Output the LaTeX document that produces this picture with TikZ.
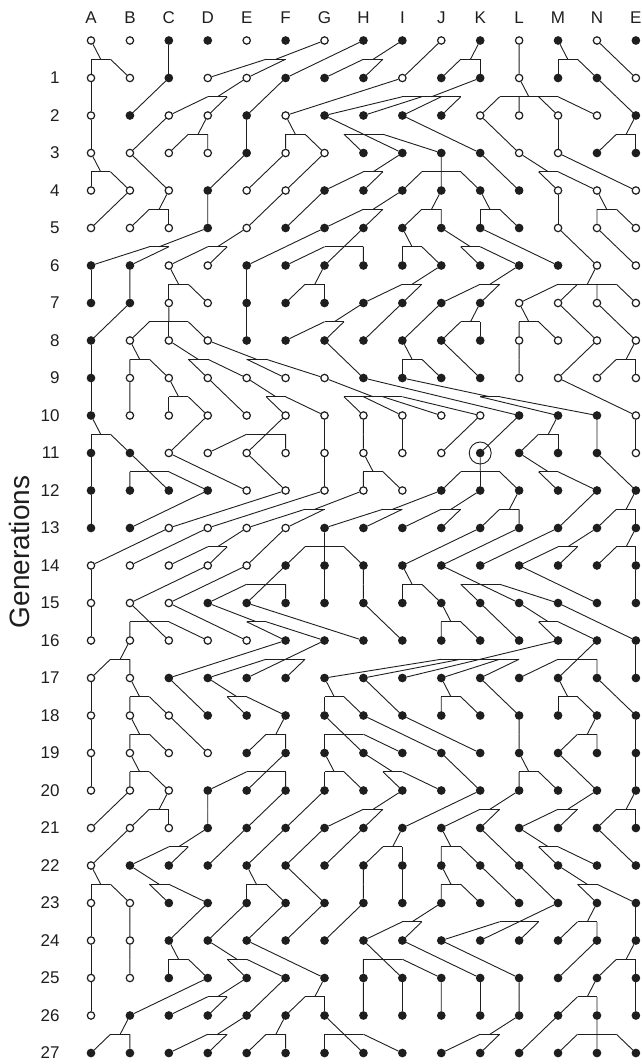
\documentclass[tikz,border=0pt]{standalone}
\usepackage{fontspec}
\setmainfont{Liberation Sans}
\usetikzlibrary{calc}
\definecolor{ink}{HTML}{1E1E1E}
\definecolor{o}{HTML}{FFFFFF}
\definecolor{f}{HTML}{1E1E1E}

\newcommand\colname[1]{\ifcase#1 A\or B\or C\or D\or E\or F\or G\or H\or I\or J\or K\or L\or M\or N\or EE\fi}
% one generation: row number, then the type of each individual
\newcommand\genrow[2]{%
  \foreach \t [count=\k from 0] in {#2}{
    \node[dot,fill=\t] (\colname{\k}#1) at ({91+38.92*\k},{40.5+37.5*#1}) {};
  }%
}
% one parent in row #1-1 and its offspring in row #1
\newcommand\brood[3]{%
  \pgfmathtruncatemacro\prow{#1-1}%
  \foreach \ch [count=\i] in {#3}{
    \coordinate (m\i) at ($(#2\prow)!0.5!(\ch#1)$);
    \draw[link] (m\i) -- (\ch#1);
    \xdef\nlast{\i}%
  }%
  \draw[link] (m1) -- (m\nlast);
  \draw[link] (#2\prow) -- ($(m1)!0.5!(m\nlast)$);
}

\begin{document}
\begin{tikzpicture}[x=1pt,y=-1pt]
\tikzset{dot/.style={circle,draw=ink,line width=1.2pt,minimum size=7.4pt,inner sep=0pt},
  link/.style={draw=ink,line width=0.9pt},
  lab/.style={font=\fontsize{17}{17}\selectfont,text=ink}}
\useasboundingbox (0,0) rectangle (641,1064);
% column letters and generation numbers
\foreach \col [count=\k from 0] in {A,B,C,D,E,F,G,H,I,J,K,L,M,N,E}
  \node[lab] (h\k) at ({91+38.92*\k},18) {\col};
\foreach \r in {1,...,27}
  \node[lab,anchor=east] (g\r) at (63,{40.5+37.5*\r}) {\r};
\node[rotate=90,font=\fontsize{28}{28}\selectfont,text=ink] (gens) at (19,552) {Generations};

\genrow{0}{o,o,f,f,o,f,o,f,f,o,f,o,f,o,f}
\genrow{1}{o,o,f,o,o,f,f,f,o,f,f,o,f,f,o}
\genrow{2}{o,f,o,o,f,o,f,f,f,f,o,o,o,o,f}
\genrow{3}{o,o,o,o,f,o,o,f,f,f,f,o,o,f,f}
\genrow{4}{o,o,o,f,o,o,f,f,f,f,f,f,o,o,o}
\genrow{5}{o,o,o,f,o,f,f,f,f,f,f,f,o,o,o}
\genrow{6}{f,f,o,o,f,f,f,f,f,f,f,f,f,o,o}
\genrow{7}{f,f,o,o,f,f,f,f,f,f,f,o,o,o,o}
\genrow{8}{f,o,o,o,f,f,f,f,f,f,f,o,o,o,o}
\genrow{9}{f,o,o,o,o,o,o,f,f,f,f,o,o,o,o}
\genrow{10}{f,o,o,o,o,o,o,o,o,o,o,f,f,f,o}
\genrow{11}{f,f,o,o,o,o,o,o,o,o,f,f,f,f,o}
\genrow{12}{f,f,f,f,o,o,o,o,o,f,f,f,f,f,f}
\genrow{13}{f,f,o,o,o,o,f,f,f,f,f,f,f,f,f}
\genrow{14}{o,o,o,o,o,f,f,f,f,f,f,f,f,f,f}
\genrow{15}{o,o,o,f,f,f,f,f,f,f,f,f,f,f,f}
\genrow{16}{o,o,o,o,o,f,f,f,f,f,f,f,f,f,f}
\genrow{17}{o,o,f,f,f,f,f,f,f,f,f,f,f,f,f}
\genrow{18}{o,o,o,f,f,f,f,f,f,f,f,f,f,f,f}
\genrow{19}{o,o,o,o,f,f,f,f,f,f,f,f,f,f,f}
\genrow{20}{o,o,o,f,f,f,f,f,f,f,f,f,f,f,f}
\genrow{21}{o,o,o,f,f,f,f,f,f,f,f,f,f,f,f}
\genrow{22}{o,f,f,f,f,f,f,f,f,f,f,f,f,f,f}
\genrow{23}{o,o,f,f,f,f,f,f,f,f,f,f,f,f,f}
\genrow{24}{o,o,f,f,f,f,f,f,f,f,f,f,f,f,f}
\genrow{25}{o,o,f,f,f,f,f,f,f,f,f,f,f,f,f}
\genrow{26}{o,f,f,f,f,f,f,f,f,f,f,f,f,f,f}
\genrow{27}{f,f,f,f,f,f,f,f,f,f,f,f,f,f,f}

% the marked individual
\node[circle,draw=ink,line width=0.9pt,minimum size=22pt] (mark) at (K11) {};

\brood{1}{A}{A,B} \brood{1}{C}{C} \brood{1}{G}{D,E} \brood{1}{H}{F} \brood{1}{I}{G,H}
\brood{1}{J}{I} \brood{1}{K}{J,K} \brood{1}{L}{L} \brood{1}{M}{M,N} \brood{1}{N}{EE}
\brood{2}{A}{A} \brood{2}{C}{B} \brood{2}{E}{C,D} \brood{2}{F}{E} \brood{2}{I}{F}
\brood{2}{K}{G,H,I,J} \brood{2}{L}{K,L,M,N} \brood{2}{N}{EE}
\brood{3}{A}{A} \brood{3}{C}{B} \brood{3}{D}{C,D} \brood{3}{E}{E} \brood{3}{F}{F,G}
\brood{3}{G}{H,I,J} \brood{3}{I}{K} \brood{3}{K}{L} \brood{3}{M}{M} \brood{3}{EE}{N,EE}
\brood{4}{A}{A,B} \brood{4}{B}{C} \brood{4}{E}{D} \brood{4}{F}{E} \brood{4}{G}{F}
\brood{4}{I}{G,H} \brood{4}{J}{I,J,K} \brood{4}{K}{L} \brood{4}{L}{M,N} \brood{4}{M}{EE}
\brood{5}{B}{A} \brood{5}{C}{B,C} \brood{5}{D}{D} \brood{5}{F}{E} \brood{5}{G}{F}
\brood{5}{I}{G,H} \brood{5}{J}{I,J} \brood{5}{K}{K,L} \brood{5}{M}{M} \brood{5}{N}{N,EE}
\brood{6}{D}{A,B} \brood{6}{E}{C,D} \brood{6}{G}{E} \brood{6}{H}{F,G,H} \brood{6}{I}{I,J}
\brood{6}{J}{K,L} \brood{6}{K}{M} \brood{6}{M}{N} \brood{6}{N}{EE}
\brood{7}{A}{A} \brood{7}{B}{B} \brood{7}{C}{C,D} \brood{7}{E}{E} \brood{7}{G}{F,G}
\brood{7}{J}{H,I} \brood{7}{L}{J,K} \brood{7}{N}{L,M,N,EE}
\brood{8}{B}{A} \brood{8}{C}{B,C,D} \brood{8}{E}{E} \brood{8}{H}{F,G} \brood{8}{I}{H}
\brood{8}{J}{I} \brood{8}{K}{J,K} \brood{8}{L}{L,M} \brood{8}{M}{N} \brood{8}{N}{EE}
\brood{9}{A}{A} \brood{9}{B}{B,C} \brood{9}{C}{D,E} \brood{9}{D}{F,G} \brood{9}{G}{H}
\brood{9}{I}{I,J} \brood{9}{J}{K} \brood{9}{L}{L} \brood{9}{N}{M} \brood{9}{EE}{N,EE}
\brood{10}{A}{A} \brood{10}{B}{B} \brood{10}{C}{C,D} \brood{10}{D}{E} \brood{10}{E}{F,G}
\brood{10}{G}{H,I,J,K} \brood{10}{H}{L} \brood{10}{I}{M,N} \brood{10}{M}{EE}
\brood{11}{A}{A,B} \brood{11}{D}{C} \brood{11}{F}{D,E,F} \brood{11}{G}{G} \brood{11}{H}{H}
\brood{11}{I}{I} \brood{11}{K}{J} \brood{11}{L}{K} \brood{11}{M}{L,M} \brood{11}{N}{N} \brood{11}{EE}{EE}
\brood{12}{A}{A} \brood{12}{B}{B,C,D} \brood{12}{C}{E} \brood{12}{E}{F} \brood{12}{G}{G}
\brood{12}{H}{H,I} \brood{12}{K}{J,K,L} \brood{12}{L}{M,N} \brood{12}{N}{EE}
\brood{13}{A}{A} \brood{13}{D}{B} \brood{13}{F}{C} \brood{13}{G}{D} \brood{13}{H}{E,F}
\brood{13}{J}{G,H} \brood{13}{K}{I,J} \brood{13}{L}{K,L} \brood{13}{N}{M} \brood{13}{EE}{N,EE}
\brood{14}{C}{A} \brood{14}{D}{B} \brood{14}{E}{C,D} \brood{14}{F}{E} \brood{14}{G}{F,G,H}
\brood{14}{K}{I} \brood{14}{L}{J} \brood{14}{M}{K} \brood{14}{N}{L,M} \brood{14}{EE}{N,EE}
\brood{15}{A}{A} \brood{15}{D}{B} \brood{15}{E}{C} \brood{15}{F}{D,E,F} \brood{15}{G}{G}
\brood{15}{H}{H} \brood{15}{I}{I,J} \brood{15}{J}{K,L,M} \brood{15}{L}{N} \brood{15}{EE}{EE}
\brood{16}{A}{A} \brood{16}{B}{B,C,D} \brood{16}{C}{E} \brood{16}{D}{F,G} \brood{16}{E}{H}
\brood{16}{H}{I} \brood{16}{J}{J,K} \brood{16}{K}{L} \brood{16}{L}{M,N} \brood{16}{M}{EE}
\brood{17}{B}{A,B} \brood{17}{F}{C} \brood{17}{G}{D,E,F} \brood{17}{M}{G,H,I,J,K}
\brood{17}{N}{L,M,N} \brood{17}{EE}{EE}
\brood{18}{A}{A} \brood{18}{B}{B,C} \brood{18}{C}{D} \brood{18}{D}{E,F} \brood{18}{G}{G,H}
\brood{18}{H}{I} \brood{18}{J}{J,K} \brood{18}{K}{L} \brood{18}{M}{M,N} \brood{18}{N}{EE}
\brood{19}{A}{A} \brood{19}{B}{B,C} \brood{19}{C}{D} \brood{19}{F}{E,F} \brood{19}{G}{G,H,I}
\brood{19}{H}{J} \brood{19}{I}{K} \brood{19}{L}{L} \brood{19}{N}{M,N} \brood{19}{EE}{EE}
\brood{20}{A}{A} \brood{20}{B}{B,C} \brood{20}{F}{D,E,F} \brood{20}{G}{G,H} \brood{20}{H}{I,J}
\brood{20}{J}{K} \brood{20}{L}{L,M} \brood{20}{M}{N} \brood{20}{EE}{EE}
\brood{21}{B}{A} \brood{21}{C}{B,C} \brood{21}{D}{D} \brood{21}{F}{E} \brood{21}{G}{F}
\brood{21}{I}{G,H} \brood{21}{K}{I} \brood{21}{L}{J,K} \brood{21}{N}{L,M} \brood{21}{EE}{N,EE}
\brood{22}{B}{A} \brood{22}{D}{B,C} \brood{22}{E}{D} \brood{22}{F}{E} \brood{22}{G}{F}
\brood{22}{H}{G} \brood{22}{I}{H,I} \brood{22}{J}{J,K} \brood{22}{K}{L} \brood{22}{L}{M,N} \brood{22}{N}{EE}
\brood{23}{A}{A,B} \brood{23}{B}{C,D} \brood{23}{E}{E,F} \brood{23}{F}{G} \brood{23}{H}{H}
\brood{23}{I}{I} \brood{23}{J}{J,K} \brood{23}{K}{L} \brood{23}{L}{M} \brood{23}{M}{N,EE}
\brood{24}{A}{A} \brood{24}{B}{B} \brood{24}{D}{C} \brood{24}{E}{D} \brood{24}{F}{E}
\brood{24}{G}{F} \brood{24}{H}{G} \brood{24}{J}{H,I} \brood{24}{M}{J,K,L} \brood{24}{N}{M,N} \brood{24}{EE}{EE}
\brood{25}{A}{A} \brood{25}{B}{B} \brood{25}{C}{C,D} \brood{25}{D}{E,F} \brood{25}{E}{G}
\brood{25}{H}{H,I,J} \brood{25}{I}{K} \brood{25}{J}{L} \brood{25}{N}{M} \brood{25}{EE}{N,EE}
\brood{26}{A}{A} \brood{26}{D}{B} \brood{26}{E}{C,D} \brood{26}{F}{E} \brood{26}{G}{F,G}
\brood{26}{H}{H} \brood{26}{I}{I} \brood{26}{J}{J} \brood{26}{K}{K} \brood{26}{L}{L}
\brood{26}{N}{M,N} \brood{26}{EE}{EE}
\brood{27}{B}{A,B} \brood{27}{E}{C,D} \brood{27}{F}{E,F} \brood{27}{G}{G,H,I} \brood{27}{L}{J,K}
\brood{27}{M}{L} \brood{27}{N}{M,N,EE}
\end{tikzpicture}
\end{document}
